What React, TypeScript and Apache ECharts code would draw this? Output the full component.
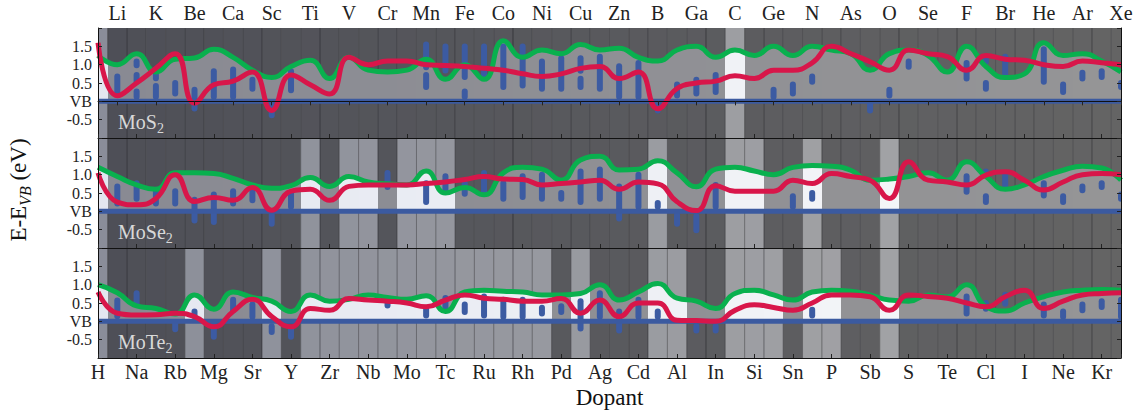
import React, { useEffect, useRef } from 'react';
import * as echarts from 'echarts';

const dopants = ['H','Li','Na','K','Rb','Be','Mg','Ca','Sr','Sc','Y','Ti','Zr','V','Nb','Cr','Mo','Mn','Tc','Fe','Ru','Co','Rh','Ni','Pd','Cu','Ag','Zn','Cd','B','Al','Ga','In','C','Si','Ge','Sn','N','P','As','Sb','O','S','Se','Te','F','Cl','Br','I','He','Ne','Ar','Kr','Xe'];

const panelNames = ['MoS', 'MoSe', 'MoTe'];

// green curve (conduction band edge) per host
const greenMoS2 = [1.25,1.0,1.3,0.8,1.15,1.18,1.42,1.2,0.85,0.65,0.95,1.12,0.62,1.2,0.85,0.8,
  0.85,1.15,0.6,1.0,0.6,1.65,1.2,1.4,1.3,1.55,1.4,1.45,1.2,1.1,1.4,1.5,1.2,1.4,1.25,1.5,
  1.25,1.5,1.4,1.3,0.85,1.3,1.4,1.25,0.8,1.5,0.95,0.65,0.75,1.6,1.25,1.3,1.1,0.8];
const greenMoSe2 = [1.2,0.95,0.72,0.6,1.05,1.05,1.03,0.9,0.72,0.63,0.7,0.92,0.68,0.95,0.8,0.75,
  0.72,1.1,0.5,0.65,0.45,1.05,1.2,1.15,0.85,1.4,1.5,1.13,1.15,1.38,1.05,0.67,1.15,1.2,1.1,1.0,
  1.2,1.25,1.23,1.12,0.85,0.88,0.95,1.05,0.85,1.35,0.95,0.6,0.72,0.95,1.12,1.23,1.18,0.85];
const greenMoTe2 = [1.0,0.78,0.42,0.35,0.2,0.72,0.33,0.8,0.65,0.55,0.27,0.72,0.55,0.6,0.72,0.65,
  0.6,0.7,0.27,0.8,0.85,0.82,0.8,0.72,0.72,0.76,1.0,0.58,0.8,1.03,0.63,0.55,0.35,0.76,0.85,0.72,
  0.58,0.8,0.85,0.82,0.72,0.58,0.55,0.72,0.67,1.0,0.4,0.28,0.5,0.67,0.8,0.85,0.87,0.85];

// red curve per host
const redMoS2 = [1.6,0.15,0.5,0.9,1.3,-0.05,0.45,0.55,0.8,-0.25,0.72,0.45,0.2,1.2,1.0,1.1,
  1.1,1.0,0.98,0.95,0.9,0.85,0.75,0.68,0.75,0.9,0.95,0.62,0.8,-0.2,0.35,0.5,0.55,0.7,0.62,0.85,
  0.85,1.05,1.5,1.3,1.08,0.85,1.4,1.3,1.22,0.85,1.25,1.15,1.12,1.0,0.95,1.1,1.05,1.0];
const redMoSe2 = [1.05,0.25,0.18,0.35,1.0,0.27,0.38,0.3,0.65,0.03,0.55,0.6,0.3,0.68,0.72,0.72,
  0.72,0.76,0.8,0.87,0.95,0.88,0.87,0.72,0.76,0.8,0.85,0.6,0.8,0.75,0.26,0.02,0.7,0.55,0.55,0.55,
  0.85,0.76,1.03,0.95,0.85,0.35,1.35,0.85,0.8,0.72,0.99,1.08,0.85,0.58,0.8,1.0,1.03,1.0];
const redMoTe2 = [0.8,0.22,0.17,0.18,0.22,0.13,-0.15,0.27,0.6,0.13,-0.15,0.35,0.3,0.62,0.58,0.55,
  0.5,0.4,0.58,0.72,0.63,0.6,0.55,0.55,0.62,0.22,0.58,0.13,0.5,0.5,0.03,0.02,0.0,0.3,0.45,0.38,
  0.3,0.5,0.72,0.72,0.67,0.3,0.72,0.68,0.63,0.5,0.4,0.67,0.85,0.35,0.55,0.72,0.76,0.78];

// defect states: [dopant index, low, high]
const statesMoS2 = [
  [1,0.13,0.76],[2,0.9,1.17],[2,0.45,0.8],[2,0.04,0.35],[3,0.55,0.95],[3,0.04,0.5],[4,0.13,0.58],
  [5,-0.28,0.4],[6,0.04,0.9],[7,0.04,0.95],[8,0.26,0.67],[9,-0.46,0.04],[10,0.22,0.9],
  [17,0.85,1.63],[17,0.31,0.8],[18,0.76,1.58],[19,0.58,1.58],[19,0.04,0.35],[20,0.58,1.58],
  [21,0.31,1.58],[22,0.35,1.58],[23,0.26,1.17],[24,0.26,1.26],[25,0.75,1.26],[25,0.31,0.7],
  [26,0.26,1.3],[27,0.04,1.04],[28,0.04,1.13],[29,-0.33,0.04],[30,0.08,0.54],[31,0.13,0.67],
  [32,0.17,0.8],[35,0.04,0.4],[36,0.13,0.54],[37,0.45,0.76],[40,-0.33,0.04],[41,0.08,0.4],
  [42,0.86,1.17],[45,0.54,1.13],[46,1.0,1.3],[46,0.26,0.58],[47,0.67,1.3],[49,0.45,1.5],
  [50,0.17,0.54],[51,0.54,0.86],[52,0.58,0.9],[53,0.31,0.58]];
const statesMoSe2 = [
  [1,0.13,0.76],[2,0.26,0.85],[3,0.13,0.67],[4,0.13,0.63],[5,-0.33,0.4],[6,-0.37,0.54],
  [7,0.13,0.63],[8,0.22,0.72],[9,-0.42,-0.01],[10,0.04,0.58],[15,0.58,1.13],[17,0.17,0.85],
  [18,0.49,1.04],[19,0.4,0.85],[20,0.45,1.13],[21,0.26,0.85],[22,0.31,1.04],[23,0.26,1.08],
  [24,0.26,0.58],[25,0.17,1.17],[26,0.26,1.22],[27,-0.28,0.76],[28,0.04,1.08],[29,0.04,0.31],
  [30,-0.42,-0.01],[31,-0.6,-0.05],[32,0.04,0.8],[36,0.04,0.49],[37,0.26,0.58],[45,0.45,1.04],
  [46,0.9,1.17],[46,0.17,0.49],[47,0.58,1.13],[49,0.35,0.85],[50,0.17,0.49],[51,0.49,0.76],
  [52,0.58,0.85],[53,0.26,0.54]];
const statesMoTe2 = [
  [1,0.06,0.65],[2,0.38,0.85],[4,-0.3,0.02],[5,0.06,0.35],[6,-0.5,0.02],[7,0.22,0.67],
  [8,0.04,0.54],[9,-0.37,-0.05],[10,-0.5,-0.1],[15,0.35,0.7],[17,0.08,0.45],[18,0.22,0.72],
  [19,0.17,0.54],[20,0.08,0.76],[21,0.04,0.67],[22,0.04,0.67],[23,0.13,0.45],[24,0.17,0.49],
  [25,-0.28,0.63],[26,0.04,0.85],[27,-0.33,0.35],[28,0.04,0.67],[29,0.04,0.35],[31,-0.33,-0.05],
  [32,-0.33,-0.05],[37,0.08,0.4],[45,0.13,0.76],[46,0.26,0.58],[47,0.4,0.81],[49,0.08,0.54],
  [50,0.04,0.35],[51,0.22,0.54],[52,0.31,0.63],[53,0.04,0.67]];

// dopant columns drawn with light shading in each host
const lightMoS2 = [0, 33];
const lightMoSe2 = [0, 11, 13, 14, 16, 17, 18, 29, 33, 34, 37, 41];
const lightMoTe2 = [0, 5, 9, 11, 12, 13, 14, 15, 16, 17, 18, 19, 20, 21, 22, 23, 25, 29, 30, 33, 34, 35, 37, 38, 41];

const yTicks = [-0.5, 0, 0.5, 1.0, 1.5];

const greens = [greenMoS2, greenMoSe2, greenMoTe2];
const reds = [redMoS2, redMoSe2, redMoTe2];
const states = [statesMoS2, statesMoSe2, statesMoTe2];
const lights = [lightMoS2, lightMoSe2, lightMoTe2];

const GL = 98, GW = 1023, GH = 110;
const GT = [28, 138, 248];
const XMAX = dopants.length - 1;
const FONT = "'Liberation Serif', 'DejaVu Serif', serif";

function parse(h: string) {
  return [parseInt(h.slice(1, 3), 16), parseInt(h.slice(3, 5), 16), parseInt(h.slice(5, 7), 16)];
}
function mix(a: string, b: string, t: number) {
  const A = parse(a), B = parse(b);
  const c = A.map((v, k) => Math.round(v + (B[k] - v) * t));
  return `rgb(${c[0]},${c[1]},${c[2]})`;
}
function outColor(light: boolean, i: number) {
  const t = i / XMAX;
  return light ? mix('#8a8d99', '#a8a8a8', t) : mix('#4e4f57', '#646464', t);
}
function inColor(light: boolean, i: number) {
  const t = i / XMAX;
  return light ? mix('#e3e6f0', '#f8f9fa', t) : mix('#898a93', '#959596', t);
}

function App() {
  const ref = useRef<HTMLDivElement>(null);
  useEffect(() => {
    if (!ref.current) return;
    const chart = echarts.init(ref.current, undefined, { renderer: 'svg' });

    const xAxis: any[] = [];
    const yAxis: any[] = [];
    const series: any[] = [];
    const axisLineStyle = { color: '#111', width: 1 };

    GT.forEach((_, k) => {
      xAxis.push({
        gridIndex: k, type: 'value', min: 0, max: XMAX, interval: 2, position: 'bottom', z: 20,
        axisLine: { show: true, onZero: false, lineStyle: axisLineStyle },
        axisTick: { show: true, inside: true, length: 4, lineStyle: { color: '#222' } },
        splitLine: { show: false },
        axisLabel: {
          show: k === 2, margin: 4, fontFamily: FONT, fontSize: 20, color: '#222',
          formatter: (v: number) => (Number.isInteger(v) && v % 2 === 0 ? dopants[v] : ''),
        },
      });
    });
    xAxis.push({
      gridIndex: 0, type: 'category', data: dopants, boundaryGap: false, position: 'top', z: 20,
      axisLine: { show: true, lineStyle: axisLineStyle },
      axisTick: { show: true, inside: true, length: 4, interval: (i: number) => i % 2 === 1, lineStyle: { color: '#222' } },
      axisLabel: { interval: (i: number) => i % 2 === 1, margin: 5, fontFamily: FONT, fontSize: 20, color: '#222' },
      splitLine: { show: false },
    });

    GT.forEach((_, k) => {
      const base = {
        gridIndex: k, type: 'value', min: -1, max: 2, interval: 0.5, z: 20,
        axisLine: { show: true, onZero: false, lineStyle: axisLineStyle },
        axisTick: { show: true, inside: true, length: 4, lineStyle: { color: '#222' } },
        splitLine: { show: false },
      };
      yAxis.push({
        ...base, position: 'left',
        axisLabel: {
          margin: 6, fontFamily: FONT, fontSize: 16, lineHeight: 16, color: '#222',
          formatter: (v: number) => {
            const t = yTicks.find((y) => Math.abs(y - v) < 1e-6);
            if (t === undefined) return '';
            return t === 0 ? 'VB' : t.toFixed(1);
          },
        },
      });
      yAxis.push({ ...base, position: 'right', axisLabel: { show: false } });
    });

    GT.forEach((_, k) => {
      const lightSet = new Set(lights[k]);
      const bgData = dopants.map((_, i) => [i, lightSet.has(i) ? 1 : 0]);
      series.push({
        type: 'custom', xAxisIndex: k, yAxisIndex: 2 * k, z: 1, silent: true,
        data: bgData,
        renderItem: (params: any, api: any) => {
          const i = api.value(0);
          const light = api.value(1) === 1;
          const cs = params.coordSys;
          const x0 = api.coord([Math.max(i - 0.5, 0), 0])[0];
          const x1 = api.coord([Math.min(i + 0.5, XMAX), 0])[0];
          const children: any[] = [
            { type: 'rect', shape: { x: x0, y: cs.y, width: x1 - x0, height: cs.height }, style: { fill: outColor(light, i) } },
          ];
          if (i > 0) {
            children.push({
              type: 'line', shape: { x1: x0, y1: cs.y, x2: x0, y2: cs.y + cs.height },
              style: { stroke: 'rgba(20,20,25,0.45)', lineWidth: 1 },
            });
          }
          return { type: 'group', children };
        },
      });

      const stops: any[] = [];
      dopants.forEach((_, i) => {
        const light = lightSet.has(i);
        const c = inColor(light, i);
        stops.push({ offset: Math.max(0, (i - 0.5) / XMAX), color: c });
        stops.push({ offset: Math.min(1, (i + 0.5) / XMAX), color: c });
      });
      const gData = greens[k].map((v, i) => [i, v]);
      const rData = reds[k].map((v, i) => [i, v]);

      series.push({
        type: 'line', xAxisIndex: k, yAxisIndex: 2 * k, z: 2, silent: true,
        data: gData, smooth: 0.5, symbol: 'none',
        lineStyle: { width: 0, opacity: 0 },
        areaStyle: {
          opacity: 1,
          color: { type: 'linear', x: GL, y: 0, x2: GL + GW, y2: 0, global: true, colorStops: stops },
        },
      });

      series.push({
        type: 'custom', xAxisIndex: k, yAxisIndex: 2 * k, z: 3, silent: true, clip: true,
        data: states[k],
        renderItem: (params: any, api: any) => {
          const i = api.value(0);
          const p1 = api.coord([i, api.value(2)]);
          const p2 = api.coord([i, api.value(1)]);
          const ya = p1[1] + 3;
          const yb = Math.max(p2[1] - 3, ya + 0.5);
          return {
            type: 'line',
            shape: { x1: p1[0], y1: ya, x2: p1[0], y2: yb },
            style: { stroke: '#3c5ba2', lineWidth: 6, lineCap: 'round' },
          };
        },
      });

      series.push({
        type: 'line', xAxisIndex: k, yAxisIndex: 2 * k, z: 4, silent: true,
        data: [[0, 0], [XMAX, 0]], symbol: 'none',
        lineStyle: { width: 5, color: '#3b5aa0' },
      });

      series.push({
        type: 'line', xAxisIndex: k, yAxisIndex: 2 * k, z: 5, silent: true,
        data: gData, smooth: 0.5, symbol: 'none',
        lineStyle: { width: 5, color: '#09b04e' },
      });
      series.push({
        type: 'line', xAxisIndex: k, yAxisIndex: 2 * k, z: 6, silent: true,
        data: rData, smooth: 0.5, symbol: 'none',
        lineStyle: { width: 5, color: '#d8164a' },
      });
    });

    const graphic: any[] = [
      {
        type: 'text', x: 18, y: 190, rotation: Math.PI / 2, z: 50,
        style: {
          text: '{a|E-E}{b|VB}{a| (eV)}',
          align: 'center', verticalAlign: 'middle', textAlign: 'center', textVerticalAlign: 'middle',
          fill: '#111',
          rich: {
            a: { fontFamily: FONT, fontSize: 23, lineHeight: 30, fill: '#111' },
            b: { fontFamily: FONT, fontSize: 16, fontStyle: 'italic', verticalAlign: 'bottom', lineHeight: 16, fill: '#111' },
          },
        },
      },
      {
        type: 'text', x: GL + GW / 2, y: 397, z: 50,
        style: {
          text: 'Dopant', align: 'center', verticalAlign: 'middle', textAlign: 'center', textVerticalAlign: 'middle',
          fontFamily: FONT, fontSize: 23, fill: '#111',
        },
      },
    ];
    GT.forEach((t, k) => {
      graphic.push({
        type: 'text', x: 118, y: t + 94, z: 50,
        style: {
          text: `{a|${panelNames[k]}}{b|2}`,
          align: 'left', verticalAlign: 'middle', textAlign: 'left', textVerticalAlign: 'middle',
          rich: {
            a: { fontFamily: FONT, fontSize: 20, lineHeight: 26, fill: '#d8d8d8' },
            b: { fontFamily: FONT, fontSize: 14, verticalAlign: 'bottom', lineHeight: 14, fill: '#d8d8d8' },
          },
        },
      });
    });

    chart.setOption({
      animation: false,
      backgroundColor: '#ffffff',
      grid: GT.map((t) => ({ left: GL, top: t, width: GW, height: GH, show: false })),
      xAxis,
      yAxis,
      series,
      graphic,
    });
    return () => chart.dispose();
  }, []);
  return <div ref={ref} style={{ position: 'fixed', left: 0, top: 0, width: 1145, height: 412 }} />;
}

export default App;
